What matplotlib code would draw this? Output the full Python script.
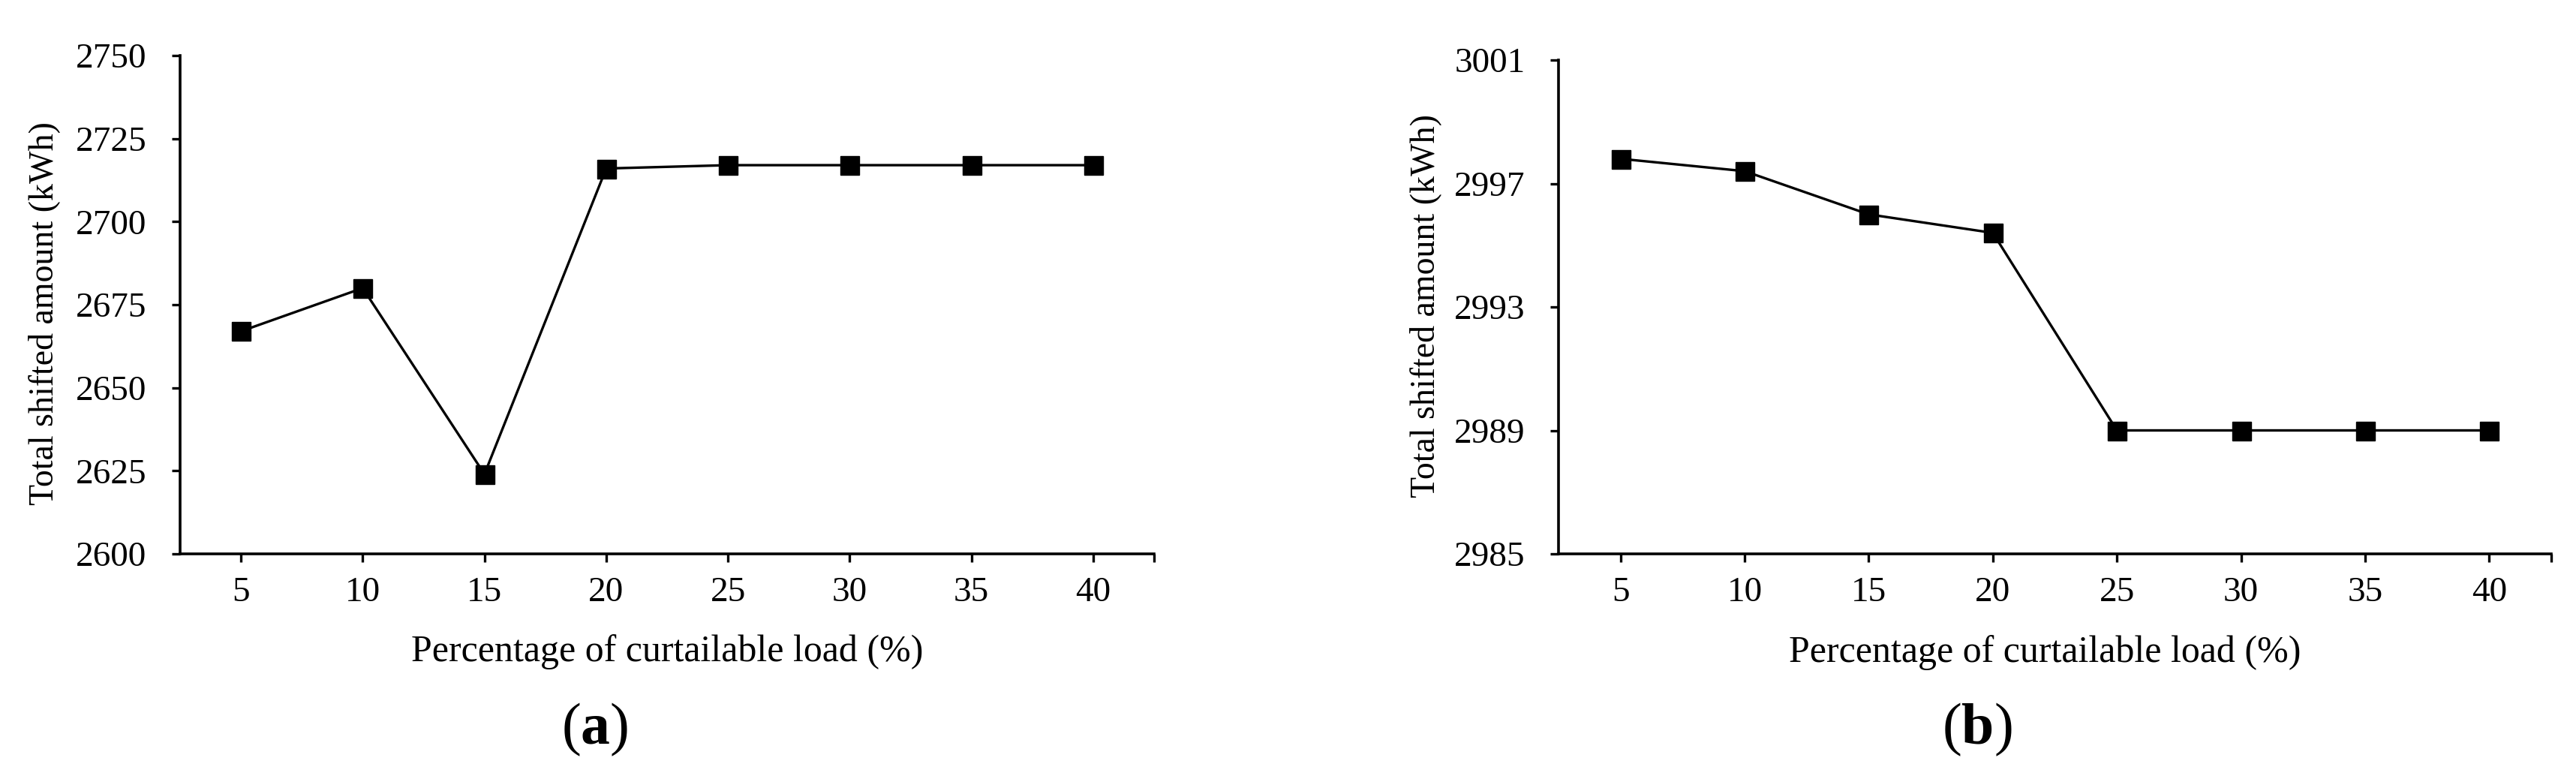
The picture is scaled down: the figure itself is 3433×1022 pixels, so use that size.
import matplotlib
matplotlib.use("Agg")
import matplotlib.pyplot as plt

plt.rcParams['font.family'] = ['Liberation Serif', 'DejaVu Serif']
plt.rcParams['mathtext.fontset'] = 'custom'
plt.rcParams['mathtext.rm'] = 'Liberation Serif'
plt.rcParams['mathtext.bf'] = 'Liberation Serif:bold'

# data
pct = [5, 10, 15, 20, 25, 30, 35, 40]
shift_a = [2667, 2680, 2624, 2716, 2717, 2717, 2717, 2717]
shift_b = [2997.8, 2997.4, 2996.0, 2995.4, 2989, 2989, 2989, 2989]
yticks_a = [2600, 2625, 2650, 2675, 2700, 2725, 2750]
yticks_b = [2985, 2989, 2993, 2997, 3001]
xlabel = "Percentage of curtailable load (%)"
ylabel = "Total shifted amount (kWh)"

W, H = 3433, 1022
fig = plt.figure(figsize=(W / 100, H / 100), dpi=100)


def px_axes(x0, x1, y0, y1):
    # pixel box (top-left origin) -> figure fraction
    return fig.add_axes([x0 / W, 1 - y1 / H, (x1 - x0) / W, (y1 - y0) / H])


def style(ax, vals, yticks, ylab_pos, xlab_pos):
    ax.plot(pct, vals, color='black', lw=2.4, marker='s', ms=18,
            mfc='black', mec='black', zorder=3, clip_on=False)
    ax.set_xlim(2.5, 42.5)
    ax.set_ylim(yticks[0], yticks[-1])
    ax.set_yticks(yticks)
    ax.set_xticks(pct + [42.5])
    ax.set_xticklabels([str(p) for p in pct] + [''])
    for s in ['top', 'right']:
        ax.spines[s].set_visible(False)
    for s in ['left', 'bottom']:
        ax.spines[s].set_linewidth(2.6)
    ax.tick_params(direction='out', length=8, width=2.4, labelsize=34,
                   colors='black')
    ax.tick_params(axis='y', pad=24)
    ax.tick_params(axis='x', pad=14)
    ax.set_xlabel(xlabel, fontsize=36)
    ax.xaxis.label.set_va('center')
    ax.xaxis.set_label_coords(*xlab_pos)
    ax.set_ylabel(ylabel, fontsize=33)
    ax.yaxis.label.set_va('center')
    ax.yaxis.set_label_coords(*ylab_pos)


ax1 = px_axes(240, 1538, 74, 738)
style(ax1, shift_a, yticks_a, (-0.1394, 0.482), (0.5, -0.197))

ax2 = px_axes(2077, 3400, 80, 738)
style(ax2, shift_b, yticks_b, (-0.1338, 0.5015), (0.49, -0.2))

fig.text(793 / W, 1 - 972 / H, r"($\mathbf{a}$)", fontsize=56,
         ha='center', va='center')
fig.text(2635 / W, 1 - 972 / H, r"($\mathbf{b}$)", fontsize=56,
         ha='center', va='center')

fig.savefig("out.png", dpi=100)
